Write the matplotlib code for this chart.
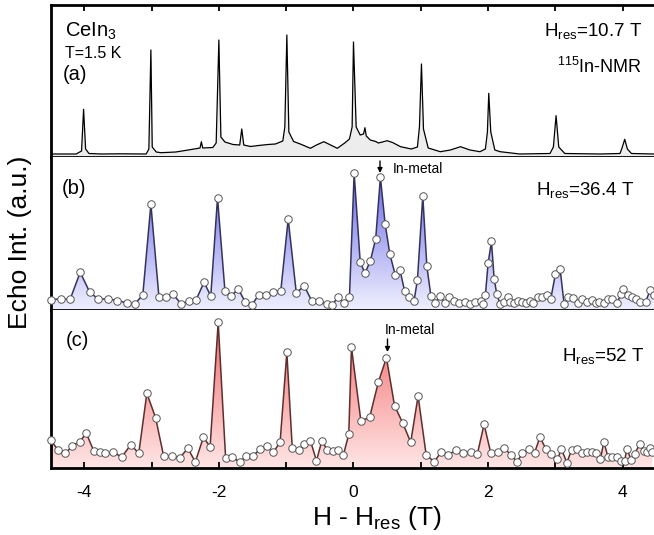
import numpy as np
import matplotlib
matplotlib.use("Agg")
import matplotlib.pyplot as plt
from matplotlib.patches import PathPatch, FancyArrowPatch
from matplotlib.ticker import MultipleLocator
from matplotlib.colors import to_rgb

plt.rcParams['font.family'] = ['Liberation Sans', 'DejaVu Sans']
plt.rcParams['mathtext.fontset'] = 'custom'
plt.rcParams['mathtext.rm'] = 'Liberation Sans'
plt.rcParams['mathtext.it'] = 'Liberation Sans:italic'
plt.rcParams['mathtext.bf'] = 'Liberation Sans:bold'

# ---------------- data ----------------
# (a) 10.7 T, continuous spectrum
a_field = [-4.49, -4.12, -4.04, -4.01, -3.98, -3.93, -3.75, -3.46, -3.08, -3.04, -3.01, -2.99,
           -2.93, -2.86, -2.64, -2.41, -2.28, -2.26, -2.24, -2.09, -2.04, -2.00, -1.97, -1.91,
           -1.79, -1.69, -1.66, -1.63, -1.53, -1.41, -1.27, -1.16, -1.05, -1.02, -0.99, -0.96,
           -0.89, -0.79, -0.64, -0.55, -0.44, -0.34, -0.24, -0.13, -0.06, -0.02, 0.00, 0.04,
           0.10, 0.15, 0.17, 0.19, 0.25, 0.33, 0.37, 0.43, 0.50, 0.58, 0.70, 0.86, 0.95, 0.98,
           1.01, 1.04, 1.11, 1.29, 1.44, 1.59, 1.73, 1.88, 1.96, 1.99, 2.01, 2.04, 2.10, 2.18,
           2.47, 2.92, 2.97, 3.01, 3.05, 3.14, 3.66, 3.96, 3.99, 4.03, 4.07, 4.13, 4.46]
a_int = [3, 3, 6, 47.7, 8, 3.5, 3, 3.2, 3, 8, 107, 10,
         5, 4.3, 5, 7.5, 9, 15.3, 9, 9.5, 14, 117, 20, 15,
         12.5, 12, 28, 12, 10.5, 11.5, 12.5, 13, 16, 30, 122, 25,
         15.5, 13, 8.7, 12, 15.3, 12, 8.7, 14, 18, 30, 115, 30,
         22, 23, 29.3, 21, 17, 15.5, 14, 15, 16.3, 14.5, 10.3, 8, 10, 30,
         93, 28, 9, 5.3, 7, 10.3, 7, 5.3, 8, 25, 63.7, 25, 7, 5.3,
         3, 3.5, 10, 41.3, 10, 3.5, 3, 3.5, 9, 17.7, 8, 3.5, 3]

# (b) 36.4 T
b_field = [-4.50, -4.34, -4.21, -4.06, -3.92, -3.79, -3.64, -3.51, -3.37, -3.25, -3.13, -3.01,
           -2.89, -2.79, -2.68, -2.56, -2.45, -2.34, -2.22, -2.12, -2.02, -1.91, -1.82, -1.71,
           -1.61, -1.51, -1.41, -1.30, -1.19, -1.08, -0.97, -0.85, -0.73, -0.62, -0.51, -0.40,
           -0.32, -0.23, -0.14, -0.06, 0.01, 0.10, 0.17, 0.25, 0.33, 0.40, 0.47, 0.54, 0.62,
           0.69, 0.76, 0.83, 0.90, 0.95, 1.03, 1.09, 1.15, 1.21, 1.28, 1.36, 1.42, 1.50, 1.57,
           1.66, 1.73, 1.81, 1.89, 1.93, 1.96, 2.00, 2.05, 2.09, 2.13, 2.18, 2.24, 2.29, 2.33,
           2.39, 2.45, 2.51, 2.57, 2.62, 2.67, 2.74, 2.80, 2.88, 2.93, 3.00, 3.07, 3.13, 3.19,
           3.26, 3.34, 3.40, 3.47, 3.54, 3.60, 3.65, 3.72, 3.78, 3.84, 3.91, 3.98, 4.01, 4.08,
           4.14, 4.20, 4.26, 4.34, 4.41, 4.46]
b_int = [10.5, 11, 10.7, 37.7, 18, 10.7, 11.3, 9.3, 7.3, 6, 15, 105.7,
         12.7, 13.3, 15.7, 6, 9, 10, 27.7, 14, 112, 19.3, 14.3, 20.7,
         8.3, 5, 15, 15, 18.3, 19, 91, 17.3, 24, 9, 9.3, 5.7,
         5, 12.7, 6.7, 12.7, 136.7, 48, 36.7, 49, 71.3, 132.7, 86.3, 56, 35.3,
         40, 19, 13.3, 9.3, 30, 114, 44, 14, 6.7, 14, 7.3, 13.3, 9.3, 7.3,
         8.3, 6, 8.3, 9.3, 6, 15, 46.7, 68.7, 31, 15.7, 6, 8.3, 12.7, 8.3,
         7.3, 9.3, 8.3, 7.3, 9.3, 7.3, 12.7, 13.3, 15, 10.7, 35.7, 41, 5.7, 12.7,
         12, 7.3, 10.7, 8.3, 10, 6.7, 8.3, 6.7, 10.7, 11.3, 7.3, 15.7, 20.7, 15,
         13.3, 10.7, 8.3, 8.3, 20, 15]

# (c) 52 T
c_field = [-4.50, -4.39, -4.28, -4.18, -4.07, -3.97, -3.86, -3.76, -3.69, -3.57, -3.44, -3.31,
           -3.19, -3.07, -2.94, -2.82, -2.70, -2.58, -2.46, -2.35, -2.23, -2.13, -2.01, -1.90,
           -1.80, -1.69, -1.59, -1.49, -1.39, -1.29, -1.19, -1.09, -0.99, -0.91, -0.81, -0.73,
           -0.64, -0.55, -0.47, -0.39, -0.31, -0.23, -0.15, -0.07, -0.03, 0.11, 0.24, 0.37,
           0.49, 0.61, 0.73, 0.85, 0.96, 1.08, 1.20, 1.30, 1.41, 1.52, 1.63, 1.74, 1.84, 1.94,
           2.04, 2.14, 2.24, 2.34, 2.43, 2.51, 2.61, 2.69, 2.77, 2.86, 2.94, 3.03, 3.09, 3.17,
           3.24, 3.32, 3.40, 3.47, 3.55, 3.60, 3.67, 3.72, 3.78, 3.84, 3.92, 3.97, 4.03, 4.06,
           4.13, 4.18, 4.25, 4.31, 4.36, 4.41, 4.44]
c_int = [28, 18, 14.7, 22, 26.3, 34.7, 17.3, 16.3, 14.7, 15.7, 11, 23.3,
         14.7, 74.7, 50.3, 11.7, 11.7, 10.3, 19.7, 6, 30.7, 21.3, 145.7, 10.3,
         11.3, 5.7, 12.3, 12.3, 18.7, 22, 15.7, 26, 115.7, 20.3, 18, 24.3,
         27.3, 7.3, 27, 18.3, 17, 18, 13, 33.7, 120.7, 47, 50.7, 86,
         110.3, 62.3, 45.3, 25.7, 72, 13, 6.3, 15.7, 13, 18, 15, 16.3, 13.7, 43.7,
         15, 15.7, 20.3, 13, 6.3, 14.7, 18.7, 15.3, 30.7, 19, 13.7, 8.7, 19, 5.3,
         18, 18.7, 14.7, 16, 16, 14.7, 9.3, 26, 11.3, 11.3, 11.3, 7.3, 7.3, 19,
         7.7, 14.3, 23.7, 17, 15.7, 20.3, 16.3]

x_ticks = [-4, -2, 0, 2, 4]
x_tick_labels = ['-4', '-2', '0', '2', '4']

# ---------------- figure ----------------
W, H = 654, 535
fig = plt.figure(figsize=(W / 100, H / 100), dpi=100)


def fpos(x0, y0, x1, y1):
    return [x0 / W, 1 - y1 / H, (x1 - x0) / W, (y1 - y0) / H]


def P(x, y):
    return (x / W, 1 - y / H)


XL = (-4.5, 4.465)
ax_a = fig.add_axes(fpos(50.6, 5, 654, 157))
ax_b = fig.add_axes(fpos(50.6, 157, 654, 310))
ax_c = fig.add_axes(fpos(50.6, 310, 654, 468))

for ax, top in ((ax_a, 152), (ax_b, 153), (ax_c, 158)):
    ax.set_xlim(*XL)
    ax.set_ylim(0, top)
    ax.set_yticks([])
    ax.spines['right'].set_visible(False)
    for s in ax.spines.values():
        s.set_linewidth(2.0)
    ax.xaxis.set_major_locator(MultipleLocator(2))
    ax.xaxis.set_minor_locator(MultipleLocator(1))

ax_b.spines['top'].set_visible(False)
ax_c.spines['top'].set_visible(False)

ax_a.tick_params(axis='x', which='both', direction='in', top=True, bottom=False,
                 labeltop=False, labelbottom=False, length=4.5, width=1.3)
ax_b.tick_params(axis='x', which='both', top=False, bottom=False,
                 labeltop=False, labelbottom=False)
ax_c.set_xticks(x_ticks)
ax_c.set_xticklabels(x_tick_labels)
ax_c.tick_params(axis='x', which='both', direction='in', top=False, bottom=True,
                 length=4.5, width=1.3, labelsize=12.5, pad=12)

# panel (a)
ax_a.fill_between(a_field, 0, a_int, color='#ededed', lw=0, zorder=1)
ax_a.plot(a_field, a_int, color='black', lw=0.9, zorder=2)


def gradient_fill(ax, x, y, c_top, c_bot, ymax, line_color):
    poly = ax.fill_between(x, 0, y, facecolor='none', edgecolor='none')
    path = poly.get_paths()[0]
    patch = PathPatch(path, transform=ax.transData, facecolor='none', edgecolor='none')
    ax.add_patch(patch)
    t = np.linspace(0, 1, 256)[:, None]
    ct = np.array(to_rgb(c_top))
    cb = np.array(to_rgb(c_bot))
    img = (cb[None, :] * (1 - t) + ct[None, :] * t)[:, None, :]
    im = ax.imshow(img, extent=[XL[0], XL[1], 0, ymax], origin='lower',
                   aspect='auto', zorder=1, interpolation='bilinear')
    im.set_clip_path(patch)
    ax.plot(x, y, color=line_color, lw=1.1, zorder=2)
    ax.plot(x, y, ls='none', marker='o', ms=5.4, mfc='white', mec='#555555',
            mew=0.7, zorder=3, clip_on=False)


gradient_fill(ax_b, b_field, b_int, '#6363e6', '#f0f0ff', 145, '#33335e')
gradient_fill(ax_c, c_field, c_int, '#f26a6a', '#ffe6e6', 150, '#5e2e2e')

# ---------------- text ----------------
fig.text(*P(65, 31), r'CeIn$_3$', fontsize=14.5, va='center', ha='left')
fig.text(*P(65, 53), 'T=1.5 K', fontsize=11.5, va='center', ha='left')
fig.text(*P(63, 75), '(a)', fontsize=14.5, va='center', ha='left')
fig.text(*P(642, 31), r'H$_{\mathrm{res}}$=10.7 T', fontsize=13.5, va='center', ha='right')
fig.text(*P(642, 67), r'$^{115}$In-NMR', fontsize=13, va='center', ha='right')

fig.text(*P(62, 189), '(b)', fontsize=14.5, va='center', ha='left')
fig.text(*P(634, 190), r'H$_{\mathrm{res}}$=36.4 T', fontsize=13.5, va='center', ha='right')
fig.text(*P(393, 169), 'In-metal', fontsize=10, va='center', ha='left')
fig.add_artist(FancyArrowPatch(P(380, 161), P(380, 173),
               transform=fig.transFigure, arrowstyle='-|>', mutation_scale=7,
               lw=1.0, color='black', shrinkA=0, shrinkB=0))

fig.text(*P(66, 340), '(c)', fontsize=14.5, va='center', ha='left')
fig.text(*P(644, 356), r'H$_{\mathrm{res}}$=52 T', fontsize=13.5, va='center', ha='right')
fig.text(*P(410, 330), 'In-metal', fontsize=10, va='center', ha='center')
fig.add_artist(FancyArrowPatch(P(387.5, 339), P(387.5, 352),
               transform=fig.transFigure, arrowstyle='-|>', mutation_scale=7,
               lw=1.0, color='black', shrinkA=0, shrinkB=0))

fig.text(*P(377, 518), r'H - H$_{\mathrm{res}}$ (T)', fontsize=19, va='center', ha='center')
fig.text(*P(20, 242), 'Echo Int. (a.u.)', fontsize=19, va='center', ha='center', rotation=90)

fig.savefig('out.png', dpi=100)
